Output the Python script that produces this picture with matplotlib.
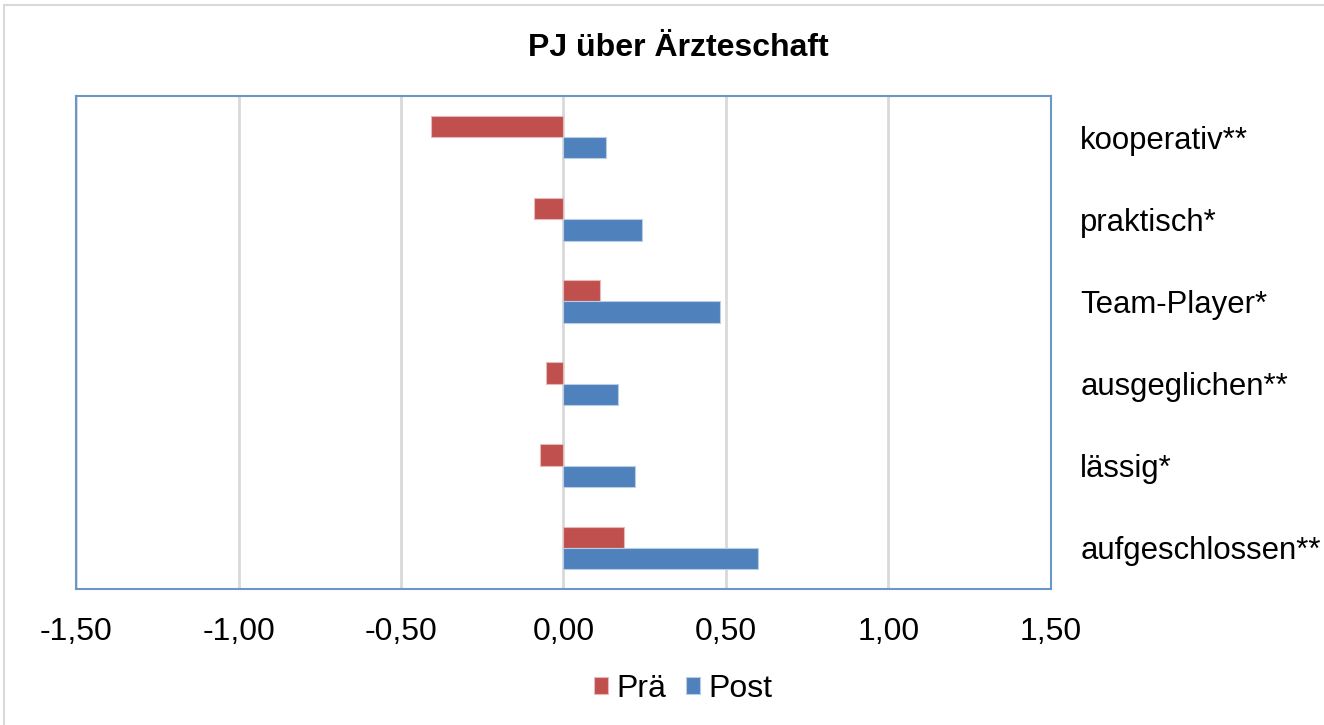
import matplotlib
matplotlib.use("Agg")
import matplotlib.pyplot as plt
import numpy as np
from matplotlib.patches import Rectangle

plt.rcParams['font.family'] = ['Liberation Sans', 'DejaVu Sans']

categories = ["kooperativ**", "praktisch*", "Team-Player*", "ausgeglichen**", "lässig*", "aufgeschlossen**"]
pre_values = [-0.407, -0.091, 0.112, -0.055, -0.073, 0.185]
post_values = [0.131, 0.241, 0.482, 0.167, 0.219, 0.600]
xticks = [-1.5, -1.0, -0.5, 0.0, 0.5, 1.0, 1.5]
xtick_labels = ["-1,50", "-1,00", "-0,50", "0,00", "0,50", "1,00", "1,50"]

W, H = 1324, 725
fig = plt.figure(figsize=(W / 100, H / 100), dpi=100)
fig.patch.set_facecolor('white')

# outer chart border (light gray)
fig.add_artist(Rectangle((4 / W, -0.1), 2.0, (H - 5) / H + 0.1, transform=fig.transFigure,
                         fill=False, edgecolor='#D9D9D9', linewidth=1.5))

left, right, top, bottom = 76, 1051, 96, 589
ax = fig.add_axes([left / W, 1 - bottom / H, (right - left) / W, (bottom - top) / H])

n = len(categories)
y = np.arange(n)
h = 0.259
red = '#C0504D'
blue = '#4F81BD'
ax.barh(y - h / 2, pre_values, height=h, color=red, edgecolor='#E6B9B8', linewidth=0.8, label='Prä', zorder=3)
ax.barh(y + h / 2, post_values, height=h, color=blue, edgecolor='#B9CDE5', linewidth=0.8, label='Post', zorder=3)

ax.set_ylim(n - 0.5, -0.5)
ax.set_xlim(-1.5, 1.5)
ax.set_xticks(xticks)
ax.set_xticklabels(xtick_labels, fontsize=23)
ax.set_yticks(y)
ax.set_yticklabels(categories, fontsize=22.4)
ax.yaxis.tick_right()
ax.tick_params(axis='y', length=0, pad=21)
ax.tick_params(axis='x', length=0, pad=20)

ax.grid(axis='x', color='#D9D9D9', linewidth=2, zorder=0)
ax.set_axisbelow(True)
for s in ax.spines.values():
    s.set_color('#6B96C8')
    s.set_linewidth(1.5)

fig.text(678 / W, 1 - 48 / H, "PJ über Ärzteschaft", fontsize=23, fontweight='bold',
         ha='center', va='center')

fig.legend(loc='center', bbox_to_anchor=(683 / W, 1 - 689 / H), ncol=2, frameon=False,
           fontsize=23, handlelength=0.45, handleheight=0.45, handletextpad=0.25,
           columnspacing=0.6)

fig.savefig("out.png", dpi=100)
